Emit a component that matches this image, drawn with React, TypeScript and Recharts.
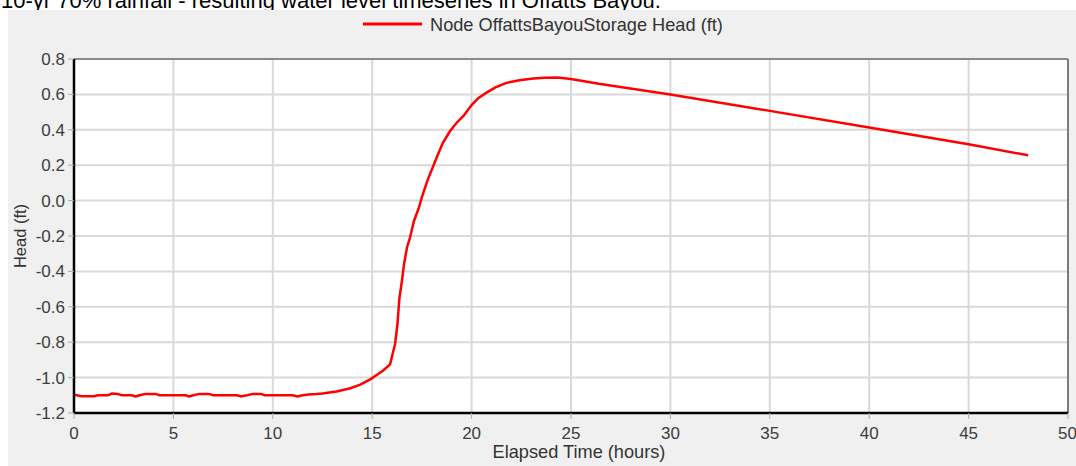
import { LineChart, Line, XAxis, YAxis, CartesianGrid, ReferenceLine } from 'recharts';

// ─── Data ────────────────────────────────────────────────────────────────────

const hours = [
  0, 0.4, 1.0, 1.2, 1.7, 1.9, 2.2, 2.4, 2.9, 3.1, 3.3, 3.6, 4.1, 4.3, 5.6, 5.8, 6.0, 6.3, 6.8, 7.0,
  8.2, 8.4, 8.7, 9.0, 9.4, 9.6, 11.0, 11.25, 11.5, 11.8, 12.2, 12.5, 13.2, 13.9, 14.4, 14.9, 15.3,
  15.55, 15.9, 16.15, 16.27, 16.37, 16.5, 16.6, 16.75, 16.9, 17.1, 17.35, 17.5, 17.8, 18.25, 18.55,
  18.9, 19.25, 19.6, 20.0, 20.35, 20.75, 21.2, 21.75, 22.4, 23.1, 23.7, 24.3, 25.0, 26.4, 30, 35, 40,
  45, 48,
];

const head = [
  -1.097, -1.105, -1.105, -1.1, -1.1, -1.09, -1.092, -1.1, -1.1, -1.107, -1.1, -1.092, -1.092, -1.1,
  -1.1, -1.107, -1.1, -1.092, -1.092, -1.1, -1.1, -1.107, -1.1, -1.092, -1.092, -1.1, -1.1, -1.107,
  -1.1, -1.095, -1.093, -1.09, -1.078, -1.06, -1.04, -1.01, -0.98, -0.96, -0.925, -0.81, -0.7, -0.55,
  -0.45, -0.36, -0.265, -0.21, -0.115, -0.04, 0.02, 0.12, 0.245, 0.325, 0.39, 0.44, 0.48, 0.54, 0.58,
  0.61, 0.64, 0.665, 0.68, 0.69, 0.694, 0.695, 0.687, 0.66, 0.6, 0.507, 0.413, 0.318, 0.256,
];

const xTicks = [0, 5, 10, 15, 20, 25, 30, 35, 40, 45, 50];
const yTicks = [-1.2, -1.0, -0.8, -0.6, -0.4, -0.2, 0.0, 0.2, 0.4, 0.6, 0.8];

const seriesName = 'Node OffattsBayouStorage Head (ft)';
const titleText = '10-yr 70% rainfall - resulting water level timeseries in Offatts Bayou.';

const rows = hours.map((h, i) => ({ hours: h, head: head[i] }));

// ─── Styles ──────────────────────────────────────────────────────────────────

const FONT = '"Liberation Sans", Arial, sans-serif';
const tickStyle = { fill: '#3c3c3c', fontSize: 17, fontFamily: FONT };

export default function App() {
  return (
    <div
      style={{
        position: 'absolute',
        left: 0,
        top: 0,
        width: 1076,
        height: 466,
        background: '#ffffff',
        overflow: 'hidden',
        fontFamily: FONT,
      }}
    >
      <svg width={1076} height={12} style={{ position: 'absolute', left: 0, top: 0 }}>
        <text x={1} y={7.5} fontSize={22} fill="#000" fontFamily={FONT}>
          {titleText}
        </text>
      </svg>
      <div
        style={{ position: 'absolute', left: 8, top: 10, right: 0, bottom: 0, background: '#f0f0f0' }}
      />
      <svg width={1076} height={40} style={{ position: 'absolute', left: 0, top: 0 }}>
        <line x1={363} x2={422} y1={24} y2={24} stroke="#ff0000" strokeWidth={3} />
        <text x={430} y={30.5} fontSize={18.2} fill="#333" fontFamily={FONT}>
          {seriesName}
        </text>
      </svg>
      <div style={{ position: 'absolute', left: 0, top: 0 }}>
        <LineChart
          width={1076}
          height={466}
          data={rows}
          margin={{ top: 59, right: 8, bottom: 13, left: 0 }}
        >
          <CartesianGrid fill="#ffffff" stroke="#d9d9d9" strokeWidth={2} />
          <XAxis
            dataKey="hours"
            type="number"
            domain={[0, 50]}
            ticks={xTicks}
            height={40}
            tick={tickStyle}
            tickSize={6}
            tickMargin={8}
            tickLine={{ stroke: '#aaaaaa' }}
            axisLine={{ stroke: '#000', strokeWidth: 2.5 }}
            label={{
              content: () => (
                <text x={579} y={458} textAnchor="middle" fontSize={18.2} fill="#333" fontFamily={FONT}>
                  Elapsed Time (hours)
                </text>
              ),
            }}
          />
          <YAxis
            type="number"
            domain={[-1.2, 0.8]}
            ticks={yTicks}
            width={74}
            tick={tickStyle}
            tickSize={6}
            tickMargin={3}
            tickLine={{ stroke: '#aaaaaa' }}
            axisLine={{ stroke: '#000', strokeWidth: 2.5 }}
            tickFormatter={(v: number) => v.toFixed(1)}
            interval={0}
            label={{
              content: () => (
                <text
                  x={20}
                  y={236}
                  transform="rotate(-90 20 236)"
                  textAnchor="middle"
                  dominantBaseline="central"
                  fontSize={16.5}
                  fill="#333"
                  fontFamily={FONT}
                >
                  Head (ft)
                </text>
              ),
            }}
          />
          <ReferenceLine y={0.8} stroke="#8a8a8a" strokeWidth={2} />
          <ReferenceLine x={50} stroke="#7a7a7a" strokeWidth={2} />
          <Line
            type="linear"
            dataKey="head"
            name={seriesName}
            stroke="#ff0000"
            strokeWidth={2.5}
            dot={false}
            isAnimationActive={false}
          />
        </LineChart>
      </div>
    </div>
  );
}
